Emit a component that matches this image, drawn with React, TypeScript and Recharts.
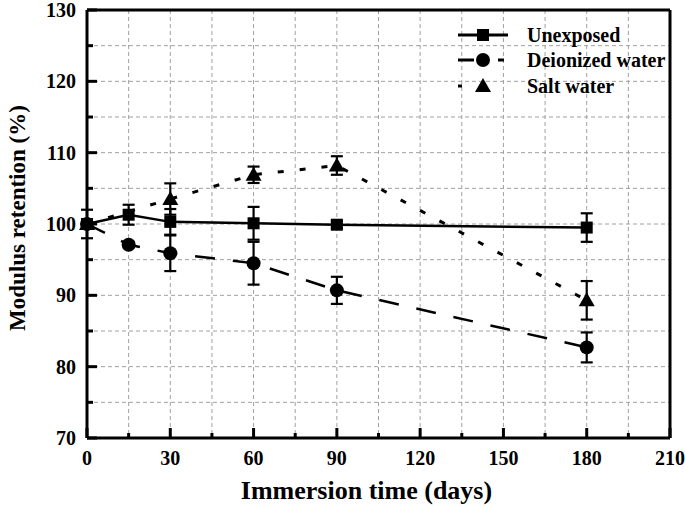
import React from 'react';
import {
  LineChart,
  Line,
  XAxis,
  YAxis,
  CartesianGrid,
  ErrorBar,
  ReferenceLine,
} from 'recharts';

// immersion days and modulus retention (%)
const days = [0, 15, 30, 60, 90, 180];
const unexposed = [100, 101.3, 100.3, 100.1, 99.9, 99.5];
const unexposedErr = [2.0, 1.4, 1.8, 2.3, 0.5, 2.0];
const deionized = [100, 97.1, 95.9, 94.5, 90.7, 82.7];
const deionizedErr = [0, 0.4, 2.5, 3.0, 1.9, 2.1];
const saltDays = [0, 30, 60, 90, 180];
const salt = [100, 103.5, 106.9, 108.2, 89.3];
const saltErr = [0, 2.2, 1.15, 1.3, 2.7];

const seriesNames = ['Unexposed', 'Deionized water', 'Salt water'];
const xTicks = [0, 15, 30, 45, 60, 75, 90, 105, 120, 135, 150, 165, 180, 195, 210];
const yTicks = [70, 75, 80, 85, 90, 95, 100, 105, 110, 115, 120, 125, 130];

const FONT = '"Liberation Serif", "Times New Roman", serif';

// the figure fills the whole window, so drop the default body margin
if (typeof document !== 'undefined') {
  document.body.style.margin = '0';
}

const unexposedData = days.map((d, i) => ({ day: d, value: unexposed[i], err: unexposedErr[i] }));
const deionizedData = days.map((d, i) => ({ day: d, value: deionized[i], err: deionizedErr[i] }));
const saltData = saltDays.map((d, i) => ({ day: d, value: salt[i], err: saltErr[i] }));

const SquareDot = (props: any) => {
  const { cx, cy, index } = props;
  if (cx == null || cy == null) return <g key={index} />;
  return <rect key={index} x={cx - 6} y={cy - 6} width={12} height={12} fill="#000" />;
};

const CircleDot = (props: any) => {
  const { cx, cy, index } = props;
  if (cx == null || cy == null) return <g key={index} />;
  return <circle key={index} cx={cx} cy={cy} r={7} fill="#000" />;
};

const TriangleDot = (props: any) => {
  const { cx, cy, index } = props;
  if (cx == null || cy == null) return <g key={index} />;
  return (
    <polygon
      key={index}
      points={`${cx},${cy - 8} ${cx - 8},${cy + 6} ${cx + 8},${cy + 6}`}
      fill="#000"
    />
  );
};

const XTick = (props: any) => {
  const { x, y, payload } = props;
  const major = payload.value % 30 === 0;
  return (
    <g>
      <line x1={x} y1={y} x2={x} y2={y - (major ? 10 : 5)} stroke="#000" strokeWidth={3} />
      {major && (
        <text x={x} y={y + 27} textAnchor="middle" fontFamily={FONT} fontWeight="bold" fontSize={20} fill="#000">
          {payload.value}
        </text>
      )}
    </g>
  );
};

const YTick = (props: any) => {
  const { x, y, payload } = props;
  const major = payload.value % 10 === 0;
  return (
    <g>
      <line x1={x} y1={y} x2={x + (major ? 10 : 6)} y2={y} stroke="#000" strokeWidth={3} />
      {major && (
        <text x={x - 11} y={y + 7} textAnchor="end" fontFamily={FONT} fontWeight="bold" fontSize={20} fill="#000">
          {payload.value}
        </text>
      )}
    </g>
  );
};

const legendRows = [
  { dash: undefined, marker: 'square' },
  { dash: '16 24 6 100', marker: 'circle' },
  { dash: '4 100', marker: 'triangle' },
];

// legend sits over the plot, top right, like the original figure
const LegendBox = () => (
  <div
    style={{
      position: 'absolute',
      left: 458,
      top: 22,
      fontFamily: FONT,
      fontWeight: 'bold',
      fontSize: 20,
      color: '#000',
    }}
  >
    {seriesNames.map((name, i) => {
      const row = legendRows[i];
      return (
        <div key={name} style={{ display: 'flex', alignItems: 'center', height: 25.5 }}>
          <svg width={69} height={20} style={{ display: 'block' }}>
            <line x1={0} y1={10} x2={50} y2={10} stroke="#000" strokeWidth={3} strokeDasharray={row.dash} />
            {row.marker === 'square' && <rect x={19} y={4} width={12} height={12} fill="#000" />}
            {row.marker === 'circle' && <circle cx={25} cy={10} r={7} fill="#000" />}
            {row.marker === 'triangle' && <polygon points="25,2 17,16 33,16" fill="#000" />}
          </svg>
          <span style={{ lineHeight: '20px', whiteSpace: 'nowrap' }}>{name}</span>
        </div>
      );
    })}
  </div>
);

export default function App() {
  return (
    <div style={{ position: 'relative', width: 685, height: 508 }}>
      <LineChart width={685} height={508} margin={{ top: 10, right: 15, bottom: 0, left: 0 }}>
        <CartesianGrid stroke="#a0a0a0" strokeDasharray="4 3" strokeWidth={1} />
        <XAxis
          type="number"
          dataKey="day"
          domain={[0, 210]}
          ticks={xTicks}
          interval={0}
          tick={<XTick />}
          tickLine={false}
          tickSize={0}
          tickMargin={0}
          height={70}
          axisLine={{ stroke: '#000', strokeWidth: 3 }}
          allowDuplicatedCategory={false}
          label={{
            value: 'Immersion time (days)',
            position: 'insideBottom',
            offset: 9,
            dx: -12,
            style: { fontFamily: FONT, fontWeight: 'bold', fontSize: 26, fill: '#000' },
          }}
        />
        <YAxis
          type="number"
          domain={[70, 130]}
          ticks={yTicks}
          interval={0}
          tick={<YTick />}
          tickLine={false}
          tickSize={0}
          tickMargin={0}
          width={87}
          axisLine={{ stroke: '#000', strokeWidth: 3 }}
          label={{
            value: 'Modulus retention (%)',
            angle: -90,
            position: 'insideLeft',
            offset: 17,
            dy: -6,
            style: { textAnchor: 'middle', fontFamily: FONT, fontWeight: 'bold', fontSize: 23, fill: '#000' },
          }}
        />
        <ReferenceLine y={130} stroke="#000" strokeWidth={3} />
        <ReferenceLine x={210} stroke="#000" strokeWidth={3} />

        <Line
          data={unexposedData}
          dataKey="value"
          name={seriesNames[0]}
          stroke="#000"
          strokeWidth={2.5}
          dot={SquareDot}
          activeDot={false}
          isAnimationActive={false}
        >
          <ErrorBar dataKey="err" width={6} stroke="#000" strokeWidth={2.2} direction="y" />
        </Line>
        <Line
          data={deionizedData}
          dataKey="value"
          name={seriesNames[1]}
          stroke="#000"
          strokeWidth={2.5}
          strokeDasharray="20 18"
          dot={CircleDot}
          activeDot={false}
          isAnimationActive={false}
        >
          <ErrorBar dataKey="err" width={6} stroke="#000" strokeWidth={2.2} direction="y" />
        </Line>
        <Line
          data={saltData}
          dataKey="value"
          name={seriesNames[2]}
          stroke="#000"
          strokeWidth={3}
          strokeDasharray="6 16"
          dot={TriangleDot}
          activeDot={false}
          isAnimationActive={false}
        >
          <ErrorBar dataKey="err" width={6} stroke="#000" strokeWidth={2.2} direction="y" />
        </Line>
      </LineChart>
      <LegendBox />
    </div>
  );
}
